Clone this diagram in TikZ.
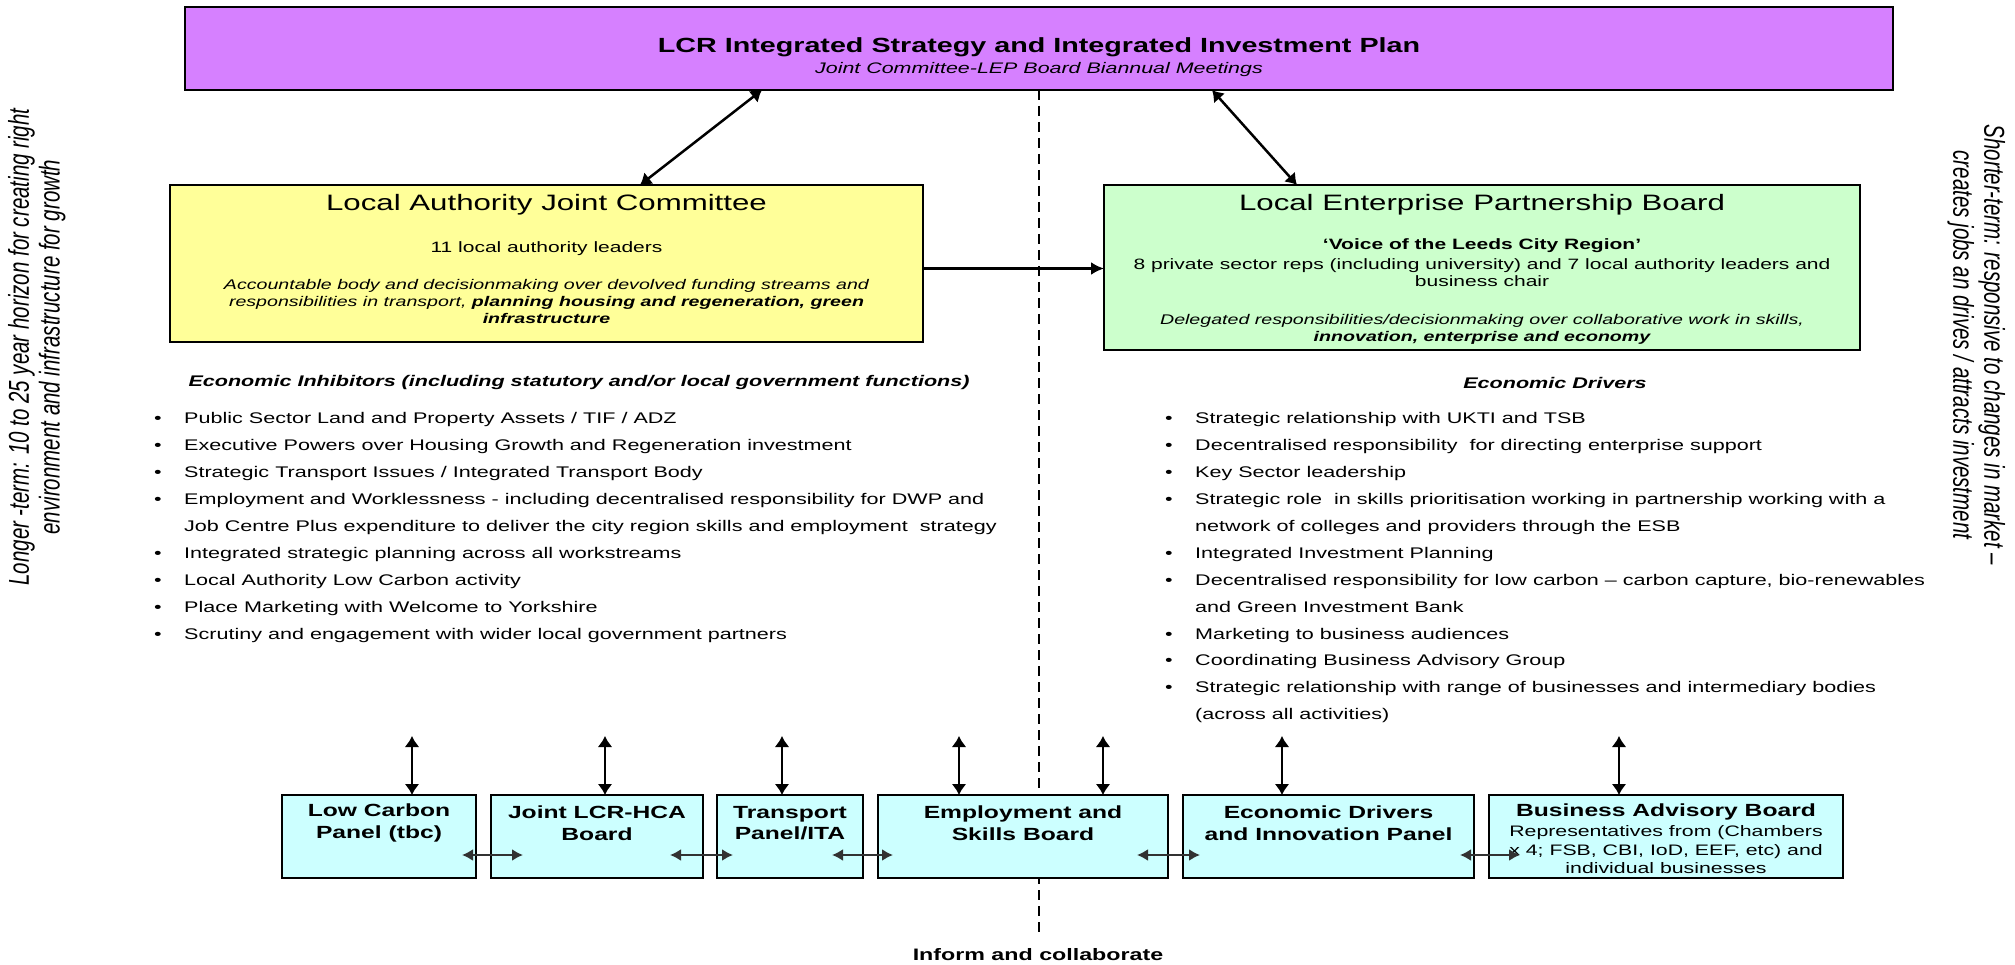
\documentclass[tikz,border=0pt]{standalone}
\usepackage{fontspec}
\setmainfont{Liberation Sans}[FakeStretch=1.4]
\newfontfamily\sidefont{Liberation Sans}
\usetikzlibrary{arrows.meta}

\definecolor{planpurple}{RGB}{214,128,255}
\definecolor{lajcyellow}{RGB}{255,255,153}
\definecolor{lepgreen}{RGB}{204,255,204}
\definecolor{panelcyan}{RGB}{204,255,255}
\definecolor{linkgrey}{RGB}{50,50,50}

\newcommand{\bul}{\makebox[30pt][l]{\textbullet}}
\newcommand{\ind}{\hspace*{30pt}}
\newcommand{\sidelines}[1]{\scalebox{1}[1.4]{\begin{tabular}{@{}c@{}}#1\end{tabular}}}

\begin{document}
\begin{tikzpicture}[x=1pt,y=-1pt,
  box/.style={draw, line width=2pt, inner sep=0pt, outer sep=0pt},
  txt/.style={inner sep=0pt, align=center},
  dbl/.style={line width=2.5pt, >={Latex[length=11pt,width=15pt]}, <->},
  one/.style={line width=2.5pt, >={Latex[length=13pt,width=13pt]}, ->},
  link/.style={line width=2pt, linkgrey, >={Latex[length=11pt,width=12pt]}, <->},
  divider/.style={line width=1.5pt, dash pattern=on 10pt off 6pt},
  listtxt/.style={inner sep=0pt, align=left, anchor=north west, font=\fontsize{15.4}{26.9}\selectfont},
  listhead/.style={txt, font=\bfseries\itshape\fontsize{15.4}{18}\selectfont},
  panelhead/.style={txt, font=\bfseries\fontsize{17.6}{21.5}\selectfont},
  sidetxt/.style={inner sep=0pt, font=\sidefont\itshape\fontsize{20.5}{22}\selectfont}]

  \path[fill=white] (0,0) rectangle (2015,965);
  \useasboundingbox (0,0) rectangle (2015,965);

  % the plan at the top
  \node[box, fill=planpurple, minimum width=1708pt, minimum height=83pt] (lcr) at (1039,48.5) {};
  \node[txt, font=\bfseries\fontsize{20.5}{24}\selectfont] (lcr-t) at (1039,47) {LCR Integrated Strategy and Integrated Investment Plan};
  \node[txt, font=\itshape\fontsize{15.3}{18}\selectfont] (lcr-s) at (1039,70) {Joint Committee-LEP Board Biannual Meetings};

  % "Inform and collaborate" divider
  \node[txt, font=\bfseries\fontsize{16.6}{20}\selectfont] (inform) at (1038,955) {Inform and collaborate};
  \draw[divider, shorten >=12pt] (lcr.south) -- (lcr.south |- inform.north);

  % the two boards
  \node[box, fill=lajcyellow, minimum width=753pt, minimum height=157pt] (lajc) at (546.5,263.5) {};
  \node[txt, font=\fontsize{22.3}{26}\selectfont] (lajc-t) at (546.5,205) {Local Authority Joint Committee};
  \node[txt, font=\fontsize{15}{17}\selectfont] (lajc-m) at (546.5,249) {11 local authority leaders};
  \node[txt, font=\itshape\fontsize{14}{17}\selectfont] (lajc-i) at (546.5,301)
    {Accountable body and decisionmaking over devolved funding streams and\\
     responsibilities in transport, \textbf{planning housing and regeneration, green}\\
     \textbf{infrastructure}};

  \node[box, fill=lepgreen, minimum width=756pt, minimum height=165pt] (lepb) at (1482,267.5) {};
  \node[txt, font=\fontsize{22.3}{26}\selectfont] (lepb-t) at (1482,205) {Local Enterprise Partnership Board};
  \node[txt, font=\bfseries\fontsize{15}{17}\selectfont] (lepb-v) at (1482,246) {‘Voice of the Leeds City Region’};
  \node[txt, font=\fontsize{15}{17}\selectfont] (lepb-m) at (1482,273)
    {8 private sector reps (including university) and 7 local authority leaders and\\business chair};
  \node[txt, font=\itshape\fontsize{14}{17}\selectfont] (lepb-i) at (1482,329)
    {Delegated responsibilities/decisionmaking over collaborative work in skills,\\
     \textbf{innovation, enterprise and economy}};

  \draw[dbl] ([xshift=-277pt]lcr.south) -- ([xshift=93.5pt]lajc.north);
  \draw[dbl] ([xshift=173pt]lcr.south) -- ([xshift=-185pt]lepb.north);
  \draw[one] ([yshift=-5pt]lajc.east) -- ([yshift=-5pt]lajc.east -| lepb.west);

  % the two lists
  \node[listhead] (inhib-h) at (579,383) {Economic Inhibitors (including statutory and/or local government functions)};
  \node[listtxt] (inhib) at (154,412.5) {%
    \bul Public Sector Land and Property Assets / TIF / ADZ\\
    \bul Executive Powers over Housing Growth and Regeneration investment\\
    \bul Strategic Transport Issues / Integrated Transport Body\\
    \bul Employment and Worklessness - including decentralised responsibility for DWP and\\
    \ind Job Centre Plus expenditure to deliver the city region skills and employment~ strategy\\
    \bul Integrated strategic planning across all workstreams\\
    \bul Local Authority Low Carbon activity\\
    \bul Place Marketing with Welcome to Yorkshire\\
    \bul Scrutiny and engagement with wider local government partners};

  \node[listhead] (driv-h) at (1555,383) {Economic Drivers};
  \node[listtxt] (driv) at (1165,412.5) {%
    \bul Strategic relationship with UKTI and TSB\\
    \bul Decentralised responsibility~ for directing enterprise support\\
    \bul Key Sector leadership\\
    \bul Strategic role~ in skills prioritisation working in partnership working with a\\
    \ind network of colleges and providers through the ESB\\
    \bul Integrated Investment Planning\\
    \bul Decentralised responsibility for low carbon – carbon capture, bio-renewables\\
    \ind and Green Investment Bank\\
    \bul Marketing to business audiences\\
    \bul Coordinating Business Advisory Group\\
    \bul Strategic relationship with range of businesses and intermediary bodies\\
    \ind (across all activities)};

  % side notes
  \node[sidetxt, rotate=90] (longer) at (38,347)
    {\sidelines{Longer -term: 10 to 25 year horizon for creating right\\environment and infrastructure for growth}};
  \node[sidetxt, rotate=-90] (shorter) at (1975,345)
    {\sidelines{Shorter-term: responsive to changes in market –\\creates jobs an drives / attracts investment}};

  % panels
  \node[box, fill=panelcyan, minimum width=194pt, minimum height=83pt] (lowc) at (379,836.5) {};
  \node[box, fill=panelcyan, minimum width=212pt, minimum height=83pt] (jlcr) at (597,836.5) {};
  \node[box, fill=panelcyan, minimum width=146pt, minimum height=83pt] (trans) at (790,836.5) {};
  \node[box, fill=panelcyan, minimum width=290pt, minimum height=83pt] (esb) at (1023,836.5) {};
  \node[box, fill=panelcyan, minimum width=291pt, minimum height=83pt] (edip) at (1328.5,836.5) {};
  \node[box, fill=panelcyan, minimum width=354pt, minimum height=83pt] (bab) at (1666,836.5) {};

  \node[panelhead] (lowc-t) at (379,823) {Low Carbon\\Panel (tbc)};
  \node[panelhead] (jlcr-t) at (597,823) {Joint LCR-HCA\\Board};
  \node[panelhead] (trans-t) at (790,823) {Transport\\Panel/ITA};
  \node[panelhead] (esb-t) at (1023,823) {Employment and\\Skills Board};
  \node[panelhead] (edip-t) at (1328.5,823) {Economic Drivers\\and Innovation Panel};
  \node[panelhead] (bab-t) at (1666,812) {Business Advisory Board};
  \node[txt, font=\fontsize{15.2}{18.5}\selectfont] (bab-s) at (1666,850)
    {Representatives from (Chambers\\x 4; FSB, CBI, IoD, EEF, etc) and\\individual businesses};

  \draw[link] ([shift={(-14,-23)}]lowc.south east) -- ([shift={(32,-23)}]jlcr.south west);
  \draw[link] ([shift={(-33,-23)}]jlcr.south east) -- ([shift={(16,-23)}]trans.south west);
  \draw[link] ([shift={(-31,-23)}]trans.south east) -- ([shift={(15,-23)}]esb.south west);
  \draw[link] ([shift={(-31,-23)}]esb.south east) -- ([shift={(17,-23)}]edip.south west);
  \draw[link] ([shift={(-14,-23)}]edip.south east) -- ([shift={(31,-23)}]bab.south west);

  % links up to the lists
  \coordinate (lowcup) at (412,736);
  \coordinate (jlcrup) at (605,736);
  \coordinate (transup) at (782,736);
  \coordinate (esbupl) at (959,736);
  \coordinate (esbupr) at (1103,736);
  \coordinate (edipup) at (1282,736);
  \coordinate (babup) at (1619,736);
  \draw[dbl] (lowcup) -- (lowcup |- lowc.north);
  \draw[dbl] (jlcrup) -- (jlcrup |- jlcr.north);
  \draw[dbl] (transup) -- (transup |- trans.north);
  \draw[dbl] (esbupl) -- (esbupl |- esb.north);
  \draw[dbl] (esbupr) -- (esbupr |- esb.north);
  \draw[dbl] (edipup) -- (edipup |- edip.north);
  \draw[dbl] (babup) -- (babup |- bab.north);
\end{tikzpicture}
\end{document}
